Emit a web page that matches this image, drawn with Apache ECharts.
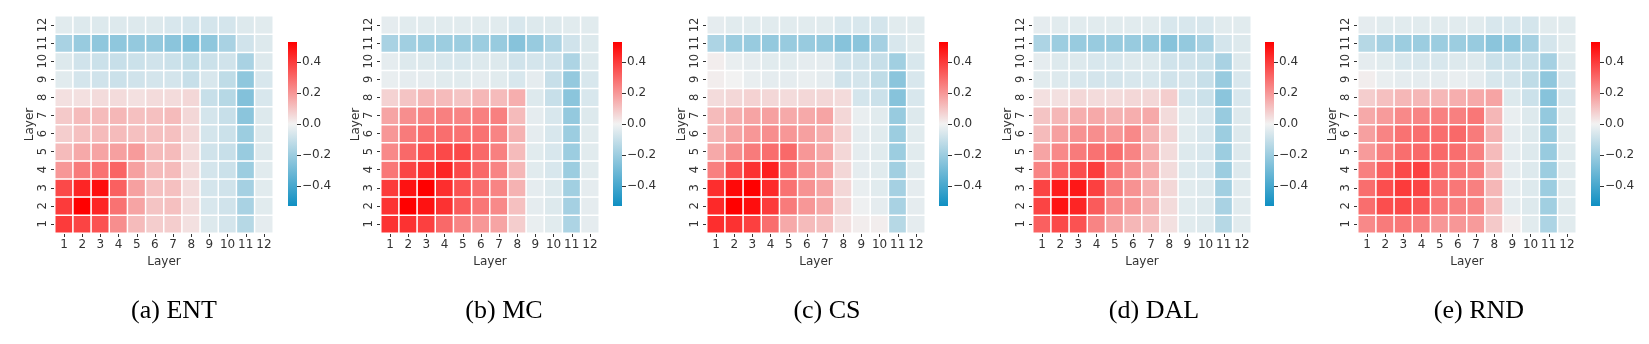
<!DOCTYPE html>
<html>
<head>
<meta charset="utf-8">
<script src="https://cdn.jsdelivr.net/npm/echarts@6/dist/echarts.min.js"></script>
<style>
  html, body { margin: 0; padding: 0; background: #fff; }
  #chart { width: 1649px; height: 344px; }
</style>
</head>
<body>
<div id="chart"></div>
<script>
// Layer-by-layer correlation matrices for five acquisition strategies.
// Rows are listed from layer 1 (bottom) up to layer 12 (top); columns are layers 1..12.
const layers = ['1', '2', '3', '4', '5', '6', '7', '8', '9', '10', '11', '12'];
const colorbarTicks = [-0.4, -0.2, 0.0, 0.2, 0.4];
const vmin = -0.53;
const vmax = 0.53;
const captions = ['(a) ENT', '(b) MC', '(c) CS', '(d) DAL', '(e) RND'];

const ent = [
  [0.40, 0.38, 0.35, 0.22, 0.12, 0.08, 0.08, 0.04, -0.05, -0.07, -0.14, -0.03],
  [0.40, 0.53, 0.45, 0.28, 0.17, 0.10, 0.11, 0.05, -0.06, -0.08, -0.17, -0.04],
  [0.37, 0.45, 0.50, 0.32, 0.18, 0.11, 0.11, 0.05, -0.07, -0.08, -0.18, -0.04],
  [0.20, 0.26, 0.28, 0.31, 0.18, 0.12, 0.12, 0.05, -0.07, -0.09, -0.20, -0.04],
  [0.12, 0.16, 0.17, 0.18, 0.19, 0.12, 0.12, 0.05, -0.08, -0.10, -0.21, -0.05],
  [0.08, 0.11, 0.12, 0.12, 0.11, 0.11, 0.11, 0.06, -0.07, -0.09, -0.20, -0.05],
  [0.09, 0.12, 0.12, 0.13, 0.11, 0.11, 0.12, 0.06, -0.07, -0.10, -0.24, -0.05],
  [0.04, 0.04, 0.05, 0.05, 0.04, 0.05, 0.05, 0.06, -0.10, -0.14, -0.26, -0.06],
  [-0.04, -0.07, -0.08, -0.09, -0.08, -0.07, -0.07, -0.10, -0.06, -0.12, -0.23, -0.06],
  [-0.05, -0.08, -0.09, -0.10, -0.09, -0.08, -0.09, -0.12, -0.09, -0.08, -0.17, -0.05],
  [-0.17, -0.21, -0.23, -0.23, -0.22, -0.22, -0.24, -0.27, -0.23, -0.17, -0.08, -0.05],
  [-0.04, -0.05, -0.05, -0.05, -0.05, -0.05, -0.06, -0.07, -0.07, -0.07, -0.05, -0.04]
];

const mc = [
  [0.42, 0.42, 0.39, 0.30, 0.24, 0.20, 0.17, 0.08, -0.02, -0.04, -0.16, -0.03],
  [0.42, 0.53, 0.49, 0.42, 0.33, 0.27, 0.23, 0.11, -0.03, -0.05, -0.18, -0.03],
  [0.40, 0.49, 0.53, 0.43, 0.35, 0.29, 0.24, 0.14, -0.03, -0.05, -0.19, -0.03],
  [0.27, 0.38, 0.42, 0.45, 0.37, 0.30, 0.24, 0.13, -0.04, -0.06, -0.20, -0.04],
  [0.23, 0.30, 0.35, 0.37, 0.37, 0.30, 0.25, 0.12, -0.04, -0.06, -0.20, -0.04],
  [0.20, 0.26, 0.29, 0.29, 0.28, 0.28, 0.24, 0.14, -0.03, -0.06, -0.20, -0.04],
  [0.17, 0.22, 0.24, 0.25, 0.24, 0.25, 0.25, 0.12, -0.03, -0.06, -0.22, -0.05],
  [0.07, 0.10, 0.13, 0.12, 0.10, 0.13, 0.12, 0.15, -0.05, -0.10, -0.24, -0.06],
  [-0.02, -0.03, -0.03, -0.04, -0.04, -0.03, -0.04, -0.06, -0.03, -0.10, -0.22, -0.06],
  [-0.03, -0.05, -0.05, -0.06, -0.06, -0.05, -0.05, -0.08, -0.07, -0.08, -0.16, -0.05],
  [-0.17, -0.19, -0.20, -0.20, -0.20, -0.20, -0.21, -0.25, -0.21, -0.16, -0.08, -0.05],
  [-0.03, -0.04, -0.04, -0.04, -0.04, -0.04, -0.04, -0.06, -0.05, -0.05, -0.04, -0.04]
];

const cs = [
  [0.43, 0.42, 0.39, 0.29, 0.16, 0.12, 0.11, 0.04, 0.01, 0.01, -0.14, -0.03],
  [0.44, 0.53, 0.50, 0.40, 0.26, 0.20, 0.16, 0.06, -0.01, -0.03, -0.17, -0.03],
  [0.43, 0.51, 0.53, 0.44, 0.28, 0.21, 0.17, 0.06, -0.02, -0.04, -0.18, -0.03],
  [0.25, 0.36, 0.42, 0.46, 0.29, 0.21, 0.17, 0.06, -0.03, -0.04, -0.19, -0.04],
  [0.16, 0.22, 0.26, 0.29, 0.30, 0.20, 0.16, 0.06, -0.03, -0.04, -0.20, -0.04],
  [0.13, 0.17, 0.20, 0.22, 0.20, 0.18, 0.15, 0.07, -0.03, -0.04, -0.20, -0.04],
  [0.12, 0.15, 0.17, 0.18, 0.16, 0.16, 0.17, 0.06, -0.02, -0.04, -0.21, -0.05],
  [0.05, 0.06, 0.07, 0.06, 0.05, 0.06, 0.06, 0.05, -0.07, -0.09, -0.25, -0.06],
  [0.01, 0.00, -0.02, -0.03, -0.03, -0.02, -0.03, -0.08, -0.07, -0.12, -0.24, -0.06],
  [0.01, -0.02, -0.03, -0.04, -0.04, -0.03, -0.03, -0.08, -0.08, -0.10, -0.19, -0.06],
  [-0.16, -0.20, -0.21, -0.22, -0.21, -0.21, -0.22, -0.25, -0.24, -0.18, -0.06, -0.04],
  [-0.03, -0.04, -0.04, -0.04, -0.04, -0.04, -0.04, -0.06, -0.06, -0.07, -0.04, -0.04]
];

const dal = [
  [0.32, 0.37, 0.35, 0.24, 0.17, 0.13, 0.11, 0.04, -0.04, -0.05, -0.14, -0.04],
  [0.38, 0.49, 0.45, 0.33, 0.23, 0.20, 0.14, 0.05, -0.04, -0.05, -0.17, -0.04],
  [0.38, 0.47, 0.48, 0.39, 0.26, 0.21, 0.15, 0.06, -0.04, -0.05, -0.19, -0.04],
  [0.24, 0.31, 0.36, 0.40, 0.27, 0.21, 0.15, 0.05, -0.05, -0.06, -0.20, -0.05],
  [0.17, 0.23, 0.26, 0.28, 0.29, 0.24, 0.15, 0.05, -0.05, -0.06, -0.20, -0.05],
  [0.12, 0.18, 0.21, 0.22, 0.20, 0.23, 0.14, 0.07, -0.04, -0.06, -0.20, -0.05],
  [0.10, 0.13, 0.15, 0.16, 0.14, 0.15, 0.16, 0.05, -0.04, -0.06, -0.21, -0.05],
  [0.04, 0.04, 0.06, 0.05, 0.05, 0.06, 0.06, 0.08, -0.07, -0.09, -0.24, -0.06],
  [-0.04, -0.05, -0.06, -0.07, -0.07, -0.06, -0.06, -0.08, -0.07, -0.10, -0.21, -0.06],
  [-0.03, -0.05, -0.05, -0.06, -0.06, -0.05, -0.05, -0.08, -0.08, -0.09, -0.17, -0.05],
  [-0.16, -0.20, -0.21, -0.21, -0.21, -0.21, -0.22, -0.25, -0.22, -0.17, -0.07, -0.05],
  [-0.03, -0.04, -0.04, -0.04, -0.04, -0.04, -0.04, -0.06, -0.06, -0.06, -0.04, -0.04]
];

const rnd = [
  [0.23, 0.26, 0.27, 0.25, 0.20, 0.20, 0.19, 0.09, 0.01, -0.04, -0.16, -0.04],
  [0.29, 0.36, 0.37, 0.34, 0.27, 0.25, 0.24, 0.12, -0.03, -0.05, -0.19, -0.04],
  [0.29, 0.36, 0.40, 0.38, 0.29, 0.27, 0.25, 0.13, -0.03, -0.05, -0.20, -0.04],
  [0.25, 0.32, 0.37, 0.39, 0.29, 0.27, 0.25, 0.12, -0.03, -0.05, -0.20, -0.04],
  [0.19, 0.25, 0.29, 0.30, 0.30, 0.29, 0.25, 0.12, -0.03, -0.05, -0.21, -0.04],
  [0.18, 0.24, 0.28, 0.29, 0.29, 0.30, 0.26, 0.14, -0.03, -0.05, -0.21, -0.04],
  [0.16, 0.19, 0.23, 0.24, 0.25, 0.25, 0.27, 0.13, -0.02, -0.05, -0.22, -0.04],
  [0.08, 0.11, 0.13, 0.13, 0.13, 0.15, 0.16, 0.17, -0.05, -0.09, -0.25, -0.06],
  [0.01, -0.02, -0.03, -0.03, -0.03, -0.02, -0.03, -0.06, -0.07, -0.12, -0.23, -0.06],
  [-0.03, -0.04, -0.06, -0.06, -0.06, -0.05, -0.05, -0.09, -0.09, -0.10, -0.18, -0.05],
  [-0.14, -0.18, -0.20, -0.20, -0.20, -0.20, -0.21, -0.24, -0.23, -0.18, -0.07, -0.04],
  [-0.03, -0.04, -0.04, -0.04, -0.04, -0.04, -0.04, -0.06, -0.06, -0.07, -0.04, -0.04]
];

const matrices = [ent, mc, cs, dal, rnd];

// Diverging palette: blue -> light grey -> red
const negColor = '#0f8fc2';
const midColor = '#f2f2f2';
const posColor = '#ff0000';

const tickColor = '#333333';
const labelFont = 'DejaVu Sans';

// Panel placement (pixels)
const panelLefts = [55, 381, 707, 1033, 1358];
const barLefts = [288, 613, 939, 1265, 1591];
const captionCenters = [169, 499, 822, 1149, 1474];
const gridTop = 16, gridSize = 217;
const barTop = 42, barHeight = 164, barWidth = 9;

function toCells(m) {
  const out = [];
  for (let r = 0; r < m.length; r++) {
    for (let c = 0; c < m[r].length; c++) {
      out.push([c, r, m[r][c]]);
    }
  }
  return out;
}

const grid = [], xAxis = [], yAxis = [], series = [], title = [];

matrices.forEach((m, i) => {
  // heatmap panel
  grid.push({ left: panelLefts[i], top: gridTop, width: gridSize + 1, height: gridSize, containLabel: false });
  xAxis.push({
    type: 'category', gridIndex: grid.length - 1, data: layers,
    name: 'Layer', nameLocation: 'middle', nameGap: 19,
    nameTextStyle: { fontFamily: labelFont, fontSize: 12, color: tickColor },
    axisLine: { show: false },
    axisTick: { show: true, alignWithLabel: true, length: 4, lineStyle: { color: tickColor, width: 1 } },
    axisLabel: { fontFamily: labelFont, fontSize: 12, color: tickColor, margin: 6, interval: 0 },
    splitLine: { show: false }, splitArea: { show: false }
  });
  yAxis.push({
    type: 'category', gridIndex: grid.length - 1, data: layers,
    name: 'Layer', nameLocation: 'middle', nameGap: 18, nameRotate: 90,
    nameTextStyle: { fontFamily: labelFont, fontSize: 12, color: tickColor },
    axisLine: { show: false },
    axisTick: { show: true, alignWithLabel: true, length: 4, lineStyle: { color: tickColor, width: 1 } },
    axisLabel: { fontFamily: labelFont, fontSize: 11.5, color: tickColor, margin: 6, rotate: 90, interval: 0 },
    splitLine: { show: false }, splitArea: { show: false }
  });
  series.push({
    type: 'heatmap',
    xAxisIndex: xAxis.length - 1, yAxisIndex: yAxis.length - 1,
    data: toCells(m),
    itemStyle: { borderColor: '#ffffff', borderWidth: 1.5 },
    emphasis: { disabled: true },
    silent: true
  });
});

// colorbars
matrices.forEach((m, i) => {
  grid.push({ left: barLefts[i], top: barTop, width: barWidth, height: barHeight });
  xAxis.push({
    type: 'category', gridIndex: grid.length - 1, data: [''],
    show: false, boundaryGap: true
  });
  yAxis.push({
    type: 'value', gridIndex: grid.length - 1, min: vmin, max: vmax, position: 'right',
    axisLine: { show: false },
    splitLine: { show: false },
    axisTick: { show: true, length: 4, customValues: colorbarTicks, lineStyle: { color: tickColor, width: 1 } },
    axisLabel: {
      show: true, customValues: colorbarTicks, margin: 5,
      fontFamily: labelFont, fontSize: 12, color: tickColor,
      formatter: v => (v < 0 ? '\u2212' : '') + Math.abs(v).toFixed(1)
    }
  });
  series.push({
    type: 'custom',
    xAxisIndex: xAxis.length - 1, yAxisIndex: yAxis.length - 1,
    data: [[0, vmin, vmax]],
    silent: true,
    renderItem: function (params, api) {
      const top = api.coord([api.value(0), api.value(2)]);
      const bottom = api.coord([api.value(0), api.value(1)]);
      const w = api.size([1, 0])[0];
      return {
        type: 'rect',
        shape: { x: top[0] - w / 2, y: top[1], width: w, height: bottom[1] - top[1] },
        style: {
          fill: new echarts.graphic.LinearGradient(0, 0, 0, 1, [
            { offset: 0, color: posColor },
            { offset: 0.5, color: midColor },
            { offset: 1, color: negColor }
          ])
        }
      };
    }
  });
  title.push({
    text: captions[i], left: captionCenters[i], top: 293, textAlign: 'center',
    textStyle: { fontFamily: 'Liberation Serif', fontSize: 26, fontWeight: 'normal', color: '#000' }
  });
});

const chart = echarts.init(document.getElementById('chart'), null, { renderer: 'canvas' });
chart.setOption({
  backgroundColor: '#ffffff',
  animation: false,
  title: title,
  grid: grid,
  xAxis: xAxis,
  yAxis: yAxis,
  visualMap: {
    type: 'continuous', show: false, min: vmin, max: vmax,
    seriesIndex: [0, 1, 2, 3, 4], dimension: 2,
    inRange: { color: [negColor, midColor, posColor] }
  },
  series: series
});
</script>
</body>
</html>
